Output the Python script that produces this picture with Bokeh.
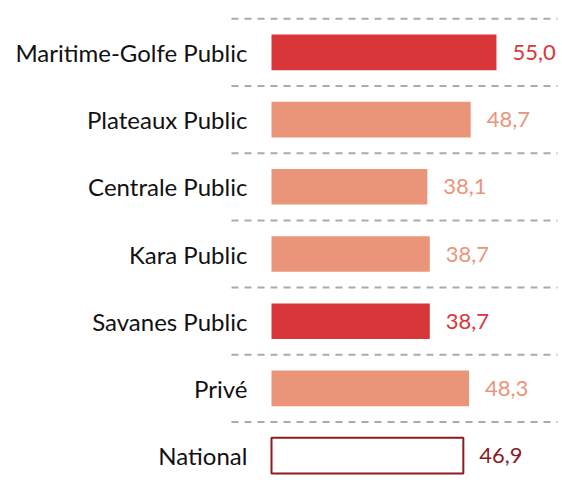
from bokeh.plotting import figure
from bokeh.models import ColumnDataSource, Range1d
from bokeh.core.properties import value
from bokeh.embed import file_html
from bokeh.resources import INLINE

categories = ["Maritime-Golfe Public", "Plateaux Public", "Centrale Public",
              "Kara Public", "Savanes Public", "Privé", "National"]
values = [55.0, 48.7, 38.1, 38.7, 38.7, 48.3, 46.9]
labels = ["55,0", "48,7", "38,1", "38,7", "38,7", "48,3", "46,9"]

RED = "#d9363a"
SALMON = "#ea957a"
DARK = "#8e1b1e"
fills = [RED, SALMON, SALMON, SALMON, RED, SALMON, "#ffffff"]
lines = [RED, SALMON, SALMON, SALMON, RED, SALMON, DARK]
line_widths = [0, 0, 0, 0, 0, 0, 2]
text_colors = [RED, SALMON, SALMON, SALMON, RED, SALMON, DARK]

ypos = [-i for i in range(len(categories))]

src = ColumnDataSource(dict(
    y=ypos, v=values, lab=labels, cat=categories,
    fill=fills, line=lines, lw=line_widths, tc=text_colors,
    zero=[0] * len(values), lx=[-5.9] * len(values),
))

W, H = 562, 483
OFF = 0
px_per_unit = 4.09
x0 = -(271 - OFF) / px_per_unit
x1 = x0 + W / px_per_unit
row_px = 67.2
ytop = 0.5 + (18.3 - OFF) / row_px
ybot = ytop - H / row_px

p = figure(width=W, height=H, output_backend="svg", toolbar_location=None,
           x_range=Range1d(x0, x1), y_range=Range1d(ybot, ytop),
           min_border=0, outline_line_color=None)
p.axis.visible = False
p.grid.visible = False
p.background_fill_color = "white"
p.border_fill_color = "white"

# dashed separators
seps = [0.5 - i for i in range(len(categories))]
gx0 = (231 - 271) / px_per_unit
gx1 = (557 - 271) / px_per_unit
p.segment(x0=[gx0] * len(seps), x1=[gx1] * len(seps), y0=seps, y1=seps,
          line_color="#aaaaaa", line_width=2, line_dash="7 6")

p.hbar(y="y", left="zero", right="v", height=0.53, source=src,
       fill_color="fill", line_color="line", line_width="lw")

p.text(x="v", y="y", text="lab", source=src, x_offset=16,
       text_color="tc", text_font=value("Lato"), text_font_size="22px",
       text_baseline="middle", text_align="left")

p.text(x="lx", y="y", text="cat", source=src,
       text_color="#111111", text_font=value("Lato"), text_font_size="24px",
       text_baseline="middle", text_align="right")

open("out.html", "w").write(file_html(p, INLINE))
